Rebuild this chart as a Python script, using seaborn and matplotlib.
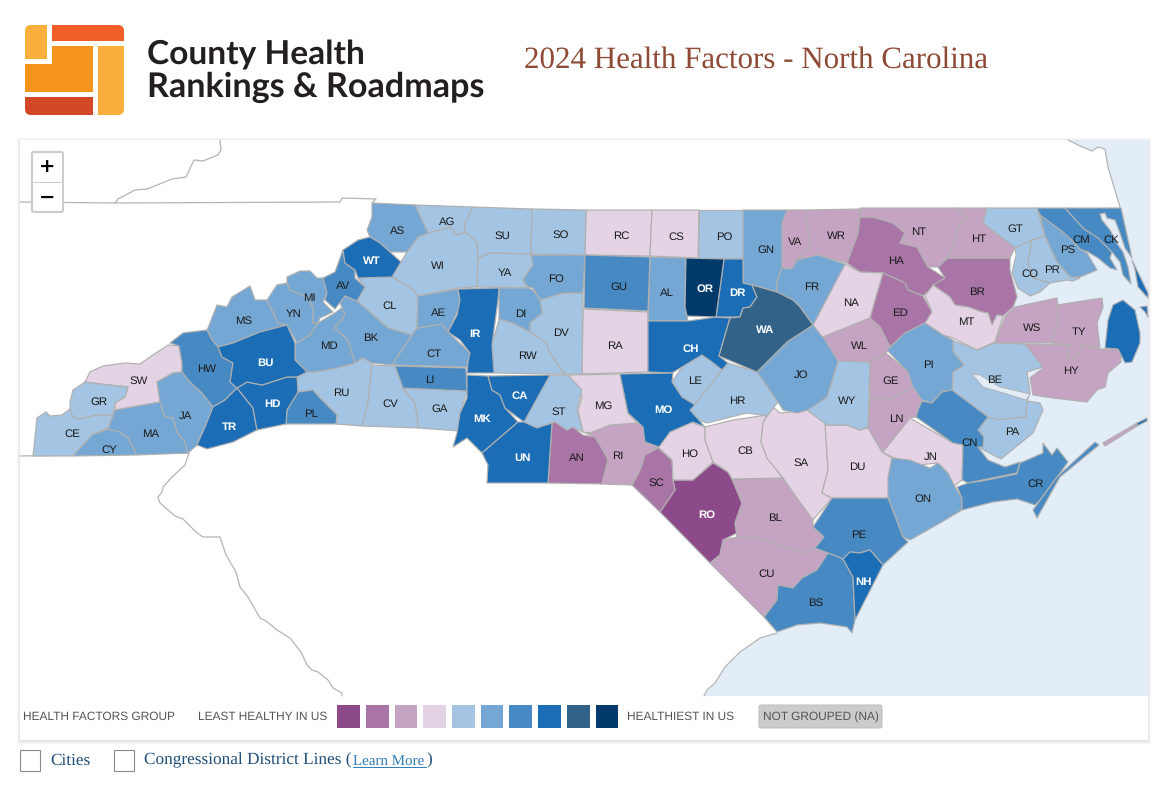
import numpy as np
import matplotlib
matplotlib.use("Agg")
import matplotlib.pyplot as plt
import seaborn as sns
from matplotlib.colors import ListedColormap
from matplotlib.patches import Polygon, Rectangle, FancyBboxPatch

#### Data ####
GROUP_COLORS = ["#8C4A8A", "#A975A6", "#C5A3C3", "#E3D3E4", "#A3C4E2",
                "#74A7D3", "#478AC3", "#1B6DB5", "#336288", "#003A6B"]

GROUPS = {
    0: ["RO"],
    1: ["AN", "SC", "HA", "ED", "BR"],
    2: ["RI", "BL", "CU", "VA", "WR", "NT", "HT", "WL", "GE", "LN", "WS", "TY", "HY", "HY2"],
    3: ["SW", "RC", "CS", "RA", "MG", "HO", "CB", "SA", "DU", "NA", "MT", "JN"],
    4: ["CE", "GR", "RU", "CV", "GA", "AG", "WI", "CL", "SU", "SO", "YA", "DV", "RW", "ST",
        "PO", "LE", "HR", "WY", "GT", "CO", "PR", "BE", "PA"],
    5: ["CY", "MA", "JA", "MS", "YN", "MI", "MD", "BK", "CT", "AE", "AS", "FO", "DI", "AL",
        "GN", "FR", "JO", "PI", "PS", "ON"],
    6: ["HW", "PL", "AV", "LI", "GU", "CN", "CR", "CR2", "PE", "BS", "CM", "CK"],
    7: ["TR", "HD", "BU", "WT", "IR", "MK", "CA", "UN", "CH", "MO", "DR", "NH", "DA", "DA2", "DA3", "DA4"],
    8: ["WA"],
    9: ["OR"],
}

# county outlines, in map units
SHAPES = {
    "CE": [(33,456),(37,418),(46,412),(50,416),(62,415),(70,409),(73,417),(78,419),(97,415),(113,415),(108,428),(92,435),(73,456)],
    "GR": [(70,402),(73,390),(85,382),(100,384),(128,387),(125,397),(115,403),(113,415),(97,415),(78,419),(73,417),(70,409)],
    "SW": [(85,382),(90,372),(103,366),(125,363),(140,364),(153,355),(168,345),(179,346),(182,363),(182,372),(173,373),(157,382),(160,402),(115,410),(115,403),(125,397),(128,387),(100,384)],
    "MA": [(115,410),(160,402),(165,417),(173,418),(177,432),(185,442),(188,453),(137,455),(128,438),(120,432),(108,429),(113,415)],
    "CY": [(73,456),(92,435),(108,429),(120,432),(128,438),(137,455)],
    "JA": [(157,382),(173,373),(182,372),(190,382),(202,393),(213,407),(213,417),(205,427),(197,445),(188,453),(185,442),(177,432),(173,418),(165,417),(160,402)],
    "HW": [(170,343),(183,333),(207,330),(212,340),(218,347),(222,357),(233,363),(230,382),(237,388),(225,400),(213,407),(202,393),(190,382),(182,372),(182,363),(179,346)],
    "TR": [(197,445),(205,427),(213,407),(225,400),(237,388),(245,398),(253,408),(257,430),(233,442),(207,449)],
    "BU": [(218,347),(233,343),(260,332),(287,325),(295,343),(295,360),(307,372),(297,377),(287,377),(262,385),(247,382),(237,388),(230,382),(233,363),(222,357)],
    "HD": [(237,388),(247,382),(262,385),(287,377),(297,377),(298,392),(287,410),(286,424),(257,430),(253,408),(245,398)],
    "PL": [(298,392),(313,390),(320,398),(337,415),(336,424),(286,424),(287,410)],
    "MS": [(208,328),(217,305),(227,307),(232,297),(250,286),(255,300),(267,300),(278,323),(287,325),(260,332),(233,343),(218,347),(212,340),(207,330)],
    "YN": [(267,300),(277,285),(287,283),(290,290),(307,297),(313,307),(313,323),(318,323),(310,335),(297,343),(287,325),(278,323)],
    "MI": [(287,283),(287,277),(300,271),(310,271),(317,278),(323,278),(327,293),(323,302),(333,312),(320,318),(318,323),(313,323),(313,307),(307,297),(290,290)],
    "MD": [(297,343),(310,335),(318,323),(335,313),(343,307),(345,315),(335,328),(348,340),(355,363),(337,368),(315,372),(307,372),(295,360),(295,343)],
    "AV": [(343,250),(345,263),(355,270),(355,278),(365,287),(357,301),(345,296),(335,309),(325,300),(327,293),(323,278),(335,272)],
    "WT": [(343,250),(358,240),(370,237),(380,243),(390,252),(401,262),(392,277),(358,278),(355,270),(345,263)],
    "AS": [(372,203),(415,205),(428,233),(418,237),(407,252),(390,252),(380,243),(370,237),(367,230),(372,217)],
    "AG": [(415,205),(473,207),(465,223),(465,232),(457,235),(450,227),(440,230),(428,233)],
    "SU": [(473,207),(532,209),(531,254),(490,253),(478,258),(477,242),(465,232),(465,223)],
    "SO": [(532,209),(586,210),(585,255),(531,254)],
    "RC": [(586,210),(652,210),(650,256),(585,255)],
    "CS": [(652,210),(699,210),(698,258),(650,256)],
    "PO": [(699,210),(743,210),(743,258),(698,258)],
    "GN": [(743,210),(787,210),(782,223),(782,268),(777,282),(777,292),(752,285),(743,283)],
    "VA": [(787,210),(805,210),(811,247),(797,260),(792,269),(782,268),(782,223)],
    "WR": [(805,210),(860,209),(858,233),(847,263),(818,255),(797,260),(811,247)],
    "HA": [(860,217),(873,217),(893,223),(905,233),(900,243),(917,247),(928,267),(945,278),(935,285),(923,296),(908,290),(905,283),(883,273),(860,272),(847,263),(858,233)],
    "NT": [(860,208),(957,208),(967,218),(960,222),(948,257),(938,267),(928,267),(917,247),(900,243),(905,233),(893,223),(873,217),(860,217)],
    "HT": [(957,208),(987,208),(983,223),(1015,248),(1010,258),(948,258),(960,222),(967,218)],
    "BR": [(948,258),(1010,258),(1010,270),(1017,297),(1013,307),(1003,316),(997,315),(992,325),(988,313),(982,312),(968,307),(955,305),(950,297),(933,285),(945,278),(938,267)],
    "GT": [(987,208),(1037,208),(1045,236),(1032,240),(1015,248),(983,223)],
    "CO": [(1015,248),(1032,240),(1028,263),(1033,278),(1050,283),(1040,292),(1030,296),(1018,288),(1012,273),(1016,255)],
    "PR": [(1032,240),(1045,236),(1057,262),(1070,277),(1080,278),(1073,281),(1067,280),(1050,283),(1033,278),(1028,263)],
    "PS": [(1040,215),(1063,232),(1075,243),(1080,249),(1087,253),(1097,270),(1080,277),(1070,277),(1057,262),(1045,236)],
    "CM": [(1037,208),(1065,208),(1083,228),(1098,238),(1112,252),(1110,258),(1117,270),(1110,268),(1098,258),(1088,252),(1080,249),(1075,243),(1063,232),(1040,215)],
    "CK": [(1065,208),(1121,208),(1127,235),(1132,258),(1125,248),(1120,233),(1115,220),(1107,218),(1105,213),(1100,214),(1102,220),(1110,230),(1118,245),(1123,252),(1128,267),(1131,284),(1123,275),(1120,262),(1112,252),(1098,238),(1083,228)],
    "WI": [(428,233),(440,230),(450,227),(457,235),(465,232),(477,242),(478,258),(477,287),(458,288),(418,296),(410,287),(392,277),(401,262),(407,252),(418,237)],
    "YA": [(478,258),(490,253),(531,254),(533,265),(523,280),(528,288),(477,287)],
    "FO": [(531,255),(585,255),(583,293),(563,293),(540,300),(533,288),(528,287),(523,280),(533,265)],
    "GU": [(585,255),(650,257),(648,311),(584,308)],
    "AL": [(650,257),(686,258),(685,307),(688,321),(648,321)],
    "OR": [(686,258),(724,259),(716,317),(687,316),(685,307)],
    "DR": [(724,259),(743,259),(743,283),(752,285),(757,297),(750,307),(743,308),(740,317),(716,317)],
    "WA": [(752,285),(777,292),(793,300),(800,307),(813,325),(787,342),(757,372),(719,356),(730,318),(740,317),(743,308),(750,307),(757,297)],
    "FR": [(782,268),(792,269),(797,260),(818,255),(845,264),(813,325),(800,307),(793,300),(777,292),(777,282)],
    "ED": [(883,273),(905,283),(908,290),(923,296),(932,312),(930,322),(925,323),(905,333),(890,347),(880,327),(870,318),(877,293)],
    "NA": [(845,264),(860,272),(883,273),(877,293),(870,318),(820,338),(813,325)],
    "WL": [(820,338),(870,318),(880,327),(890,347),(886,353),(870,362),(847,362),(837,361),(825,340)],
    "JO": [(813,325),(825,340),(838,361),(827,397),(808,410),(797,413),(783,410),(778,402),(757,372),(787,342)],
    "WY": [(838,361),(870,362),(869,393),(868,427),(860,430),(847,425),(827,425),(807,410),(827,397)],
    "PI": [(887,350),(905,333),(925,323),(943,335),(953,340),(953,352),(964,365),(953,372),(952,390),(942,392),(932,403),(922,400),(913,387),(908,372)],
    "GE": [(870,362),(886,353),(908,372),(913,387),(890,399),(870,397),(869,380)],
    "LN": [(870,397),(890,399),(913,387),(922,400),(918,410),(916,417),(908,418),(910,427),(882,452),(868,428)],
    "CN": [(916,417),(918,410),(922,401),(932,403),(942,392),(952,390),(988,417),(978,430),(984,437),(983,447),(978,447),(988,460),(1005,467),(1020,462),(1017,473),(982,480),(968,483),(962,480),(963,445),(953,443)],
    "CR": [(957,487),(968,483),(982,481),(1017,474),(1020,463),(1043,453),(1043,443),(1052,455),(1057,448),(1068,462),(1060,473),(1040,500),(1035,505),(1017,499),(993,502),(962,510),(962,498)],
    "CR2": [(1033,510),(1037,518),(1060,477),(1099,445),(1095,442),(1057,477)],
    "HY2": [(1103,443),(1137,423),(1137,426),(1105,446)],
    "DA4": [(1137,423),(1147,418),(1147,421),(1137,426)],
    "JN": [(883,452),(910,418),(953,443),(963,445),(962,480),(953,487),(948,473),(938,463),(918,465),(892,457)],
    "ON": [(892,458),(910,460),(930,468),(938,463),(948,473),(955,487),(962,498),(962,510),(940,523),(910,540),(903,537),(888,497),(888,477)],
    "PE": [(832,498),(888,498),(903,537),(908,542),(883,565),(870,550),(860,553),(850,552),(843,559),(828,553),(815,548),(824,537),(813,527)],
    "NH": [(843,559),(850,552),(860,553),(870,550),(883,565),(855,620),(853,577)],
    "BS": [(828,553),(843,559),(853,577),(855,620),(852,633),(847,627),(820,623),(797,625),(777,632),(764,617),(777,600),(778,585),(793,588),(802,578),(817,570)],
    "CU": [(710,563),(720,555),(723,540),(737,537),(753,538),(773,543),(803,553),(815,548),(828,553),(817,570),(802,578),(793,588),(778,585),(777,600),(764,617)],
    "BL": [(732,479),(783,478),(797,498),(813,520),(813,527),(824,537),(815,548),(803,553),(773,543),(753,538),(737,537),(735,523),(742,503)],
    "RO": [(713,463),(728,472),(732,479),(742,503),(735,523),(737,533),(723,540),(720,555),(710,563),(660,512),(675,490),(673,480),(693,480)],
    "SC": [(660,512),(632,485),(640,470),(645,455),(658,448),(672,460),(673,480),(675,490)],
    "HO": [(658,447),(670,432),(688,421),(705,427),(705,440),(713,462),(693,480),(673,480),(672,460)],
    "CB": [(705,427),(733,420),(767,415),(763,423),(761,442),(767,458),(783,478),(732,479),(728,472),(713,462),(705,440)],
    "SA": [(767,416),(773,407),(780,413),(807,410),(825,423),(828,470),(822,493),(832,498),(813,520),(797,498),(783,478),(767,458),(761,442),(763,423)],
    "DU": [(825,425),(847,425),(860,430),(868,428),(882,452),(892,458),(888,498),(832,498),(822,493),(828,470)],
    "HR": [(690,410),(728,363),(757,372),(778,402),(767,416),(747,413),(707,423),(698,420)],
    "LE": [(672,382),(682,367),(702,355),(712,362),(722,370),(695,405),(682,397)],
    "CH": [(648,321),(688,321),(716,317),(730,318),(719,356),(728,363),(722,370),(712,362),(702,355),(682,367),(672,373),(648,372)],
    "MO": [(620,374),(673,373),(672,382),(682,397),(695,405),(690,410),(705,427),(693,422),(670,432),(659,447),(645,442),(643,427),(628,413)],
    "RA": [(583,309),(648,312),(648,372),(582,374)],
    "MG": [(568,375),(620,374),(628,413),(637,423),(610,425),(590,433),(583,432),(578,410),(582,397)],
    "ST": [(550,375),(568,375),(582,390),(577,410),(583,432),(573,427),(567,430),(555,422),(537,428),(524,422),(533,403)],
    "CA": [(488,376),(550,375),(524,422),(505,408),(500,395),(492,390)],
    "MK": [(467,375),(488,376),(492,390),(500,395),(505,408),(518,422),(482,453),(467,438),(453,447),(457,433),(460,413),(467,398),(467,390)],
    "UN": [(518,422),(524,422),(537,428),(552,423),(548,483),(487,483),(488,465),(482,453)],
    "AN": [(552,423),(555,422),(567,430),(573,427),(583,435),(595,437),(603,450),(608,460),(602,484),(548,483)],
    "RI": [(583,432),(590,433),(610,425),(637,423),(643,427),(645,442),(658,447),(645,455),(640,470),(632,485),(602,484),(608,460),(603,450),(595,437)],
    "IR": [(458,289),(499,288),(498,300),(492,345),(494,373),(467,373),(468,362),(470,353),(460,340),(448,332),(457,315),(460,300)],
    "AE": [(418,296),(458,289),(460,300),(458,310),(448,332),(442,324),(417,328)],
    "CL": [(358,278),(392,277),(410,287),(418,296),(417,328),(412,335),(388,328),(357,301),(365,287)],
    "BK": [(340,303),(345,296),(357,301),(388,328),(412,335),(392,365),(372,363),(363,358),(355,363),(348,340),(335,328),(345,315)],
    "CT": [(417,328),(442,324),(448,332),(470,353),(467,367),(395,365),(392,365),(412,335)],
    "LI": [(395,366),(466,368),(467,391),(403,388)],
    "GA": [(403,388),(467,391),(465,398),(460,413),(459,431),(419,428),(415,403)],
    "CV": [(372,365),(395,366),(403,388),(415,403),(419,428),(362,426),(368,403)],
    "RU": [(307,372),(315,372),(337,368),(355,363),(363,358),(372,363),(368,403),(362,426),(336,424),(337,415),(320,398),(313,390),(298,392),(297,377)],
    "DI": [(499,288),(528,288),(533,290),(540,300),(542,313),(530,323),(530,332),(513,323),(499,319)],
    "RW": [(499,319),(513,323),(530,332),(547,343),(548,350),(563,372),(565,374),(494,373),(492,345)],
    "DV": [(540,300),(563,293),(583,293),(582,374),(565,374),(548,350),(547,343),(530,332),(530,323),(542,313)],
    "MT": [(925,296),(933,285),(950,297),(955,305),(968,307),(982,312),(988,313),(992,325),(997,315),(1003,316),(995,342),(977,350),(953,338),(943,335),(925,323),(932,312)],
    "WS": [(1015,307),(1057,298),(1059,317),(1052,343),(995,343),(1005,316)],
    "TY": [(1057,305),(1102,298),(1103,307),(1097,323),(1100,348),(1082,345),(1077,358),(1067,358),(1070,345),(1052,343),(1059,317)],
    "HY": [(1025,344),(1070,345),(1067,358),(1077,358),(1082,345),(1100,349),(1120,349),(1121,362),(1108,373),(1105,387),(1097,390),(1087,402),(1053,398),(1033,395),(1030,378),(1043,368),(1033,362)],
    "BE": [(952,340),(977,350),(995,343),(1025,344),(1043,367),(1027,372),(1030,393),(1027,401),(1026,417),(997,420),(988,417),(952,390),(953,372),(964,365),(953,352)],
    "PA": [(988,417),(997,420),(1026,417),(1027,401),(1040,403),(1043,410),(1033,433),(1001,459),(978,447),(984,437),(978,430)],
    "DA": [(1105,348),(1108,320),(1113,305),(1123,300),(1135,310),(1140,333),(1140,343),(1132,362),(1125,363),(1118,349)],
    "DA2": [(1132,260),(1148,293),(1148,298),(1138,287),(1135,270)],
    "DA3": [(1140,307),(1147,306),(1148,317),(1145,312)],
}

# label centres for the county codes shown on the map
LABEL_X = {"CE":72,"CY":109,"GR":99,"SW":139,"MA":151,"JA":185,"HW":207,"TR":229,"HD":272,"BU":265,"MS":244,"YN":294,"MI":309,"MD":329,"PL":311,"RU":341,"CV":390,"GA":440,"LI":430,"CT":434,"BK":371,"AV":343,"WT":372,"AS":398,"AG":447,"WI":438,"CL":390,"AE":439,"IR":475,"SU":502,"SO":561,"YA":505,"FO":556,"DI":521,"DV":561,"RW":527,"ST":559,"CA":520,"MK":482,"UN":523,"AN":577,"RI":618,"SC":656,"MG":603,"RC":621,"CS":676,"PO":724,"GN":766,"VA":795,"WR":836,"GU":619,"AL":667,"OR":705,"DR":737,"RA":615,"CH":691,"LE":695,"MO":663,"HR":737,"WA":765,"FR":812,"NA":851,"WL":859,"JO":801,"WY":847,"HA":896,"NT":919,"HT":979,"BR":977,"ED":900,"MT":966,"GT":1015,"CO":1030,"PR":1052,"PS":1068,"CM":1081,"CK":1111,"WS":1032,"TY":1079,"HY":1071,"BE":995,"PI":928,"GE":891,"LN":896,"PA":1012,"CN":970,"JN":931,"ON":923,"CR":1036,"DU":857,"SA":801,"CB":745,"HO":690,"RO":707,"BL":775,"CU":767,"BS":816,"PE":859,"NH":863}
LABEL_Y = {"CE":434,"CY":450,"GR":402,"SW":381,"MA":434,"JA":416,"HW":369,"TR":427,"HD":404,"BU":363,"MS":321,"YN":314,"MI":298,"MD":346,"PL":414,"RU":393,"CV":404,"GA":409,"LI":380,"CT":354,"BK":338,"AV":286,"WT":261,"AS":231,"AG":222,"WI":266,"CL":306,"AE":313,"IR":334,"SU":236,"SO":235,"YA":273,"FO":279,"DI":314,"DV":333,"RW":356,"ST":412,"CA":396,"MK":419,"UN":458,"AN":458,"RI":456,"SC":483,"MG":406,"RC":236,"CS":237,"PO":237,"GN":250,"VA":242,"WR":236,"GU":287,"AL":293,"OR":289,"DR":293,"RA":346,"CH":349,"LE":381,"MO":410,"HR":401,"WA":330,"FR":287,"NA":303,"WL":346,"JO":375,"WY":401,"HA":261,"NT":232,"HT":239,"BR":292,"ED":313,"MT":322,"GT":229,"CO":274,"PR":270,"PS":250,"CM":240,"CK":240,"WS":328,"TY":332,"HY":371,"BE":380,"PI":365,"GE":381,"LN":419,"PA":432,"CN":443,"JN":457,"ON":499,"CR":484,"DU":467,"SA":463,"CB":451,"HO":454,"RO":515,"BL":518,"CU":574,"BS":603,"PE":535,"NH":582}

OCEAN = [(1068,140),(1078,145),(1092,151),(1098,147),(1105,149),(1108,167),(1120,207),(1040,212),(1020,250),(1012,290),(1012,320),(1020,345),(1026,360),(1024,395),(1015,410),(990,430),(975,455),(975,475),(970,490),(950,510),(900,540),(860,580),(845,620),(800,620),(777,633),(760,638),(740,652),(725,667),(715,683),(707,690),(704,696),(1148,696),(1148,140)]
RIVER = [(972,374),(980,375),(1000,387),(1030,394),(1026,400),(1007,394),(983,387)]
BORDER_LINES = [
    [(20,202),(115,203),(340,202),(342,198),(376,199),(372,203)],
    [(115,203),(118,199),(135,190),(147,189),(172,179),(186,177),(194,160),(203,161),(218,155),(221,150),(220,140)],
    [(20,456),(188,453)],
    [(189,453),(185,465),(172,477),(163,487),(162,492),(158,497),(160,503),(175,516),(183,519),(197,533),(203,537),(220,537),(226,555),(236,572),(240,587),(248,597),(260,618),(266,621),(277,630),(290,638),(301,652),(307,665),(312,670),(318,672),(328,680),(333,688),(342,693),(342,696)],
    [(1068,140),(1078,145),(1092,151),(1098,147),(1105,149),(1108,167),(1120,207)],
    [(777,633),(760,638),(740,652),(725,667),(715,683),(707,690),(704,696)],
]

TITLE = "2024 Health Factors - North Carolina"
LOGO_LINES = ["County Health", "Rankings & Roadmaps"]
LEGEND_NAME = "HEALTH FACTORS GROUP"
LEGEND_LOW = "LEAST HEALTHY IN US"
LEGEND_HIGH = "HEALTHIEST IN US"
LEGEND_NA = "NOT GROUPED (NA)"

LAND_EDGE = "#B0B0B0"
OCEAN_COLOR = "#E3EDF7"
TEXT_GRAY = "#555555"
LINK_BLUE = "#1F4E79"
###################################

sns.set_theme(style="white")
plt.rcParams["font.family"] = ["Liberation Sans", "DejaVu Sans"]
plt.rcParams["text.hinting"] = "no_hinting"

fig = plt.figure(figsize=(11.68, 8.10), dpi=100, facecolor="white")
ax = fig.add_axes([0, 0, 1, 1])
ax.set_xlim(0, 1168)
ax.set_ylim(810, 0)
ax.axis("off")

# panel and its soft shadow
for grow, shade in [(3, "#F7F7F7"), (2, "#F0F0F0"), (1, "#E6E6E6")]:
    ax.add_patch(Rectangle((20 - grow, 140 - grow + 1), 1128 + 2 * grow, 600 + 2 * grow, fc=shade, ec="none", zorder=0))
ax.add_patch(Rectangle((20, 140), 1128, 600, fc="white", ec="none", zorder=0.5))

ax.add_patch(Polygon(OCEAN, fc=OCEAN_COLOR, ec="none", zorder=1))
for line in BORDER_LINES:
    pts = np.array(line)
    ax.plot(pts[:, 0], pts[:, 1], color="#B4B4B4", lw=0.9, zorder=1.5)

# counties
for group, names in GROUPS.items():
    for name in names:
        ax.add_patch(Polygon(SHAPES[name], fc=GROUP_COLORS[group], ec=LAND_EDGE, lw=0.85, joinstyle="round", zorder=2))
ax.add_patch(Polygon(RIVER, fc=OCEAN_COLOR, ec=LAND_EDGE, lw=0.6, zorder=2.5))

for group, names in GROUPS.items():
    dark = group in (0, 7, 8, 9)
    for name in names:
        if name in LABEL_X:
            ax.text(LABEL_X[name], LABEL_Y[name], name, ha="center", va="center", fontsize=8.2,
                    color="white" if dark else "#1A1A1A", fontweight="bold" if dark else "normal", zorder=3)

# zoom control
ax.add_patch(FancyBboxPatch((32, 152), 31, 60, boxstyle="round,pad=0,rounding_size=2", fc="white", ec="#CCCCCC", lw=1.5, zorder=4))
ax.plot([32, 63], [182, 182], color="#CCCCCC", lw=0.7, zorder=5)
ax.text(47, 167, "+", ha="center", va="center", fontsize=14, fontweight="bold", color="black", family="DejaVu Sans", zorder=5)
ax.text(47, 198, "\u2212", ha="center", va="center", fontsize=14, fontweight="bold", color="black", family="DejaVu Sans", zorder=5)

# logo
logo_clip = FancyBboxPatch((25, 25), 99, 90, boxstyle="round,pad=0,rounding_size=6", fc="none", ec="none")
ax.add_patch(logo_clip)
logo_parts = [
    Rectangle((25, 25), 22, 34, fc="#FAAE3C", ec="none"),
    Rectangle((52, 25), 72, 16, fc="#F05F28", ec="none"),
    Polygon([(52, 46), (93, 46), (93, 92), (25, 92), (25, 64), (52, 64)], fc="#F7941E", ec="none"),
    Rectangle((25, 97), 68, 18, fc="#D24726", ec="none"),
    Rectangle((98, 46), 26, 69, fc="#FAAE3C", ec="none"),
]
for part in logo_parts:
    ax.add_patch(part)
    part.set_clip_path(logo_clip)
ax.text(147, 64, LOGO_LINES[0], ha="left", va="baseline", fontsize=24.1, fontweight="bold", family="Lato", color="#231F20")
ax.text(147, 97, LOGO_LINES[1], ha="left", va="baseline", fontsize=24.6, fontweight="bold", family="Lato", color="#231F20")

ax.text(524, 68, TITLE, ha="left", va="baseline", fontsize=22.3, family="Liberation Serif", color="#8F4A35")

# legend
ax.text(23, 716.5, LEGEND_NAME, ha="left", va="center", fontsize=8.6, color=TEXT_GRAY)
ax.text(198, 716.5, LEGEND_LOW, ha="left", va="center", fontsize=8.6, color=TEXT_GRAY)
ax.text(627, 716.5, LEGEND_HIGH, ha="left", va="center", fontsize=8.6, color=TEXT_GRAY)
ax.add_patch(FancyBboxPatch((759, 705), 123, 23, boxstyle="round,pad=0,rounding_size=2", fc="#CCCCCC", ec="#BDBDBD", lw=0.7))
ax.text(820.5, 716.5, LEGEND_NA, ha="center", va="center_baseline", fontsize=8.6, color=TEXT_GRAY)

legend_ax = fig.add_axes([334.2 / 1168, 1 - 731 / 810, 287 / 1168, 29 / 810])
sns.heatmap(np.arange(len(GROUP_COLORS)).reshape(1, -1), ax=legend_ax, cmap=ListedColormap(GROUP_COLORS),
            cbar=False, linewidths=4.1, linecolor="white", xticklabels=False, yticklabels=False)

# check boxes below the map
for box_x in (20, 114):
    ax.add_patch(Rectangle((box_x, 750), 20, 20.5, fc="white", ec="#8A8A8A", lw=0.8))
ax.text(50, 760.5, "Cities", ha="left", va="center", fontsize=12.4, family="Liberation Serif", color=LINK_BLUE)
ax.text(144, 760.5, "Congressional District Lines (", ha="left", va="center", fontsize=12.4, family="Liberation Serif", color=LINK_BLUE)
ax.text(353, 761, "Learn More", ha="left", va="center", fontsize=10.8, family="Liberation Serif", color="#2E7BB6")
ax.plot([353, 426], [767, 767], color="#2E7BB6", lw=0.7)
ax.text(426, 760.5, ")", ha="left", va="center", fontsize=12.4, family="Liberation Serif", color=LINK_BLUE)

fig.savefig("out.png", dpi=100)
